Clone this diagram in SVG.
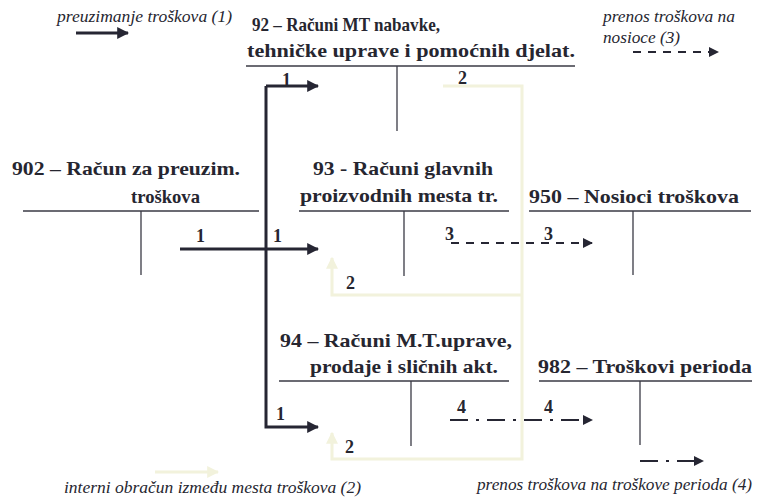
<svg xmlns="http://www.w3.org/2000/svg" width="757" height="499" viewBox="0 0 757 499">
<style>
.t{font-family:"Liberation Serif","DejaVu Serif","Noto Serif",Times,serif;font-weight:bold;font-size:19px;fill:#262630}
.n{font-family:"Liberation Serif","DejaVu Serif","Noto Serif",Times,serif;font-weight:bold;font-size:18px;fill:#262630}
.i{font-family:"Liberation Serif","DejaVu Serif","Noto Serif",Times,serif;font-style:italic;font-size:16px;fill:#262630}
.acc{stroke:#3a3a44;stroke-width:1.3;fill:none}
.main{stroke:#262633;stroke-width:3;fill:none}
.int{stroke:#f2f2dc;stroke-width:3;fill:none}
.dash{stroke:#262633;stroke-width:2;fill:none;stroke-dasharray:8 7}
.dd{stroke:#262633;stroke-width:2;fill:none;stroke-dasharray:18 8 3 8}
</style>
<defs>
<marker id="ad" viewBox="0 0 10 10" refX="9" refY="5" markerWidth="4" markerHeight="4" orient="auto" markerUnits="strokeWidth"><path d="M0,0 L10,5 L0,10 z" fill="#262633"/></marker>
<marker id="ad2" viewBox="0 0 10 10" refX="9" refY="5" markerWidth="5" markerHeight="5" orient="auto" markerUnits="strokeWidth"><path d="M0,0 L10,5 L0,10 z" fill="#262633"/></marker>
<marker id="ay" viewBox="0 0 10 10" refX="9" refY="5" markerWidth="4" markerHeight="4" orient="auto" markerUnits="strokeWidth"><path d="M0,0 L10,5 L0,10 z" fill="#f2f2dc"/></marker>
</defs>

<g id="legend1">
<text class="i" x="57" y="22" textLength="175" lengthAdjust="spacingAndGlyphs">preuzimanje troškova (1)</text>
<line class="main" x1="76" y1="33" x2="128" y2="33" marker-end="url(#ad)"/>
</g>
<g id="legend3">
<text class="i" x="603" y="22" textLength="132" lengthAdjust="spacingAndGlyphs">prenos troškova na</text>
<text class="i" x="603" y="43" textLength="77" lengthAdjust="spacingAndGlyphs">nosioce (3)</text>
<line class="dash" x1="633" y1="52" x2="718" y2="52" marker-end="url(#ad2)"/>
</g>
<g id="legend2">
<line class="int" x1="155" y1="472" x2="218" y2="472" marker-end="url(#ay)"/>
<text class="i" x="64" y="493" textLength="297" lengthAdjust="spacingAndGlyphs">interni obračun između mesta troškova (2)</text>
</g>
<g id="legend4">
<line class="dd" x1="640" y1="461" x2="703" y2="461" stroke-dasharray="20 8 3 8" marker-end="url(#ad2)"/>
<text class="i" x="477" y="490" textLength="275" lengthAdjust="spacingAndGlyphs">prenos troškova na troškove perioda (4)</text>
</g>

<g id="node92">
<text class="t" x="252" y="31" textLength="188" lengthAdjust="spacingAndGlyphs">92 – Računi MT nabavke,</text>
<text class="t" x="247" y="57" textLength="328" lengthAdjust="spacingAndGlyphs">tehničke uprave i pomoćnih djelat.</text>
<line class="acc" x1="246" y1="66" x2="575" y2="66"/>
<line class="acc" x1="397" y1="66" x2="397" y2="131"/>
</g>
<g id="node902">
<text class="t" x="12" y="175" textLength="228" lengthAdjust="spacingAndGlyphs">902 – Račun za preuzim.</text>
<text class="t" x="131" y="203" textLength="69" lengthAdjust="spacingAndGlyphs">troškova</text>
<line class="acc" x1="23" y1="211" x2="259" y2="211"/>
<line class="acc" x1="141" y1="211" x2="141" y2="275"/>
</g>
<g id="node93">
<text class="t" x="313" y="175" textLength="180" lengthAdjust="spacingAndGlyphs">93 - Računi glavnih</text>
<text class="t" x="300" y="202" textLength="198" lengthAdjust="spacingAndGlyphs">proizvodnih mesta tr.</text>
<line class="acc" x1="299" y1="211" x2="509" y2="211"/>
<line class="acc" x1="404" y1="211" x2="404" y2="276"/>
</g>
<g id="node950">
<text class="t" x="529" y="203" textLength="210" lengthAdjust="spacingAndGlyphs">950 – Nosioci troškova</text>
<line class="acc" x1="529" y1="211" x2="751" y2="211"/>
<line class="acc" x1="633" y1="211" x2="633" y2="275"/>
</g>
<g id="node94">
<text class="t" x="280" y="347" textLength="232" lengthAdjust="spacingAndGlyphs">94 – Računi M.T.uprave,</text>
<text class="t" x="310" y="373" textLength="188" lengthAdjust="spacingAndGlyphs">prodaje i sličnih akt.</text>
<line class="acc" x1="279" y1="381" x2="509" y2="381"/>
<line class="acc" x1="411" y1="381" x2="411" y2="446"/>
</g>
<g id="node982">
<text class="t" x="538" y="373" textLength="214" lengthAdjust="spacingAndGlyphs">982 – Troškovi perioda</text>
<line class="acc" x1="539" y1="381" x2="752" y2="381"/>
<line class="acc" x1="640" y1="381" x2="640" y2="445"/>
</g>

<g id="connectors">
<path class="int" d="M443,86 H522 V459 H332 V433" marker-end="url(#ay)"/>
<path class="int" d="M522,295 H332 V258" marker-end="url(#ay)"/>
<path class="main" d="M266,86 V427 H318" marker-end="url(#ad)"/>
<line class="main" x1="266" y1="86" x2="318" y2="86" marker-end="url(#ad)"/>
<line class="main" x1="180" y1="249" x2="318" y2="249" marker-end="url(#ad)"/>
<line class="dash" x1="451" y1="243" x2="592" y2="243" marker-end="url(#ad2)"/>
<line class="dd" x1="450" y1="420" x2="592" y2="420" marker-end="url(#ad2)"/>
<text class="n" x="282" y="86">1</text>
<text class="n" x="458" y="84">2</text>
<text class="n" x="196" y="242">1</text>
<text class="n" x="273" y="242">1</text>
<text class="n" x="346" y="289">2</text>
<text class="n" x="445" y="240">3</text>
<text class="n" x="544" y="240">3</text>
<text class="n" x="276" y="420">1</text>
<text class="n" x="345" y="453">2</text>
<text class="n" x="457" y="413">4</text>
<text class="n" x="544" y="413">4</text>
</g>
</svg>
